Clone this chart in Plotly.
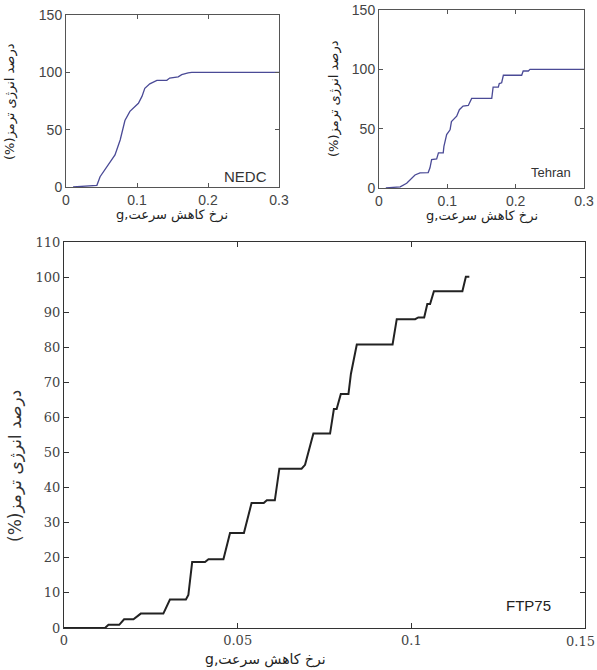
import plotly.graph_objects as go

# NEDC cycle
nedc_x = [0.010, 0.020, 0.035, 0.0435, 0.048, 0.0576, 0.069, 0.0763, 0.083, 0.090, 0.102, 0.107,
          0.111, 0.118, 0.128, 0.142, 0.146, 0.158, 0.163, 0.172, 0.177, 0.300]
nedc_y = [0.0, 0.5, 1.0, 1.5, 9, 18, 28, 41, 58, 66, 73, 79,
          86, 90, 93, 93, 95, 96, 98, 99.5, 100, 100]

# Tehran cycle
teh_x = [0.010, 0.031, 0.0405, 0.0527, 0.060, 0.072, 0.0746, 0.077, 0.0844, 0.087, 0.094, 0.095,
         0.099, 0.104, 0.106, 0.1137, 0.1176, 0.123, 0.1307, 0.1356, 0.165, 0.167, 0.1746, 0.176,
         0.1795, 0.182, 0.2088, 0.211, 0.2185, 0.221, 0.300]
teh_y = [0.0, 1.0, 4, 11, 12.7, 13, 17, 24, 24.5, 29.6, 29.6, 35,
         45, 49, 56, 60.5, 66, 69, 69.6, 75.5, 75.5, 85, 85, 88,
         88.7, 95, 95, 98.6, 98.6, 100, 100]

# FTP75 cycle
ftp_x = [0.000, 0.0118, 0.0128, 0.0159, 0.0173, 0.0200, 0.0221, 0.0286, 0.0305, 0.0351, 0.0358,
         0.0369, 0.0406, 0.0416, 0.0459, 0.0478, 0.0518, 0.0540, 0.0575, 0.0584, 0.0607, 0.0620,
         0.0684, 0.0694, 0.0718, 0.0766, 0.0777, 0.0785, 0.0797, 0.0819, 0.0826, 0.0843, 0.0946,
         0.0958, 0.1011, 0.1020, 0.1037, 0.1046, 0.1054, 0.1065, 0.1147, 0.1157, 0.1167]
ftp_y = [0.0, 0.0, 0.9, 0.9, 2.5, 2.5, 4.1, 4.1, 8.1, 8.1, 9.4,
         18.8, 18.8, 19.6, 19.6, 27.1, 27.1, 35.6, 35.6, 36.4, 36.4, 45.4,
         45.4, 46.5, 55.4, 55.4, 62.4, 62.4, 66.7, 66.7, 72.4, 80.8, 80.8,
         88.0, 88.0, 88.5, 88.5, 92.3, 92.3, 96.0, 96.0, 100.1, 100.1]

small_ticks = [0, 0.1, 0.2, 0.3]
small_ticktext = ["0", "0.1", "0.2", "0.3"]
big_ticks = [0, 0.05, 0.1, 0.15]
big_ticktext = ["0", "0.05", "0.1", ""]
edge_ticktext = "0.15"

x_title = "g,نرخ کاهش سرعت"
y_title = "(%)درصد انرژی ترمز"

fig = go.Figure()
fig.add_trace(go.Scatter(x=nedc_x, y=nedc_y, mode="lines", xaxis="x", yaxis="y",
                         line=dict(color="#4a4a96", width=1.3), showlegend=False))
fig.add_trace(go.Scatter(x=teh_x, y=teh_y, mode="lines", xaxis="x2", yaxis="y2",
                         line=dict(color="#4a4a96", width=1.3), showlegend=False))
fig.add_trace(go.Scatter(x=ftp_x, y=ftp_y, mode="lines", xaxis="x3", yaxis="y3",
                         line=dict(color="#222222", width=2), showlegend=False))

W, H = 597, 670
def px(x):
    return x / W
def py(y):
    return (H - y) / H

small_ax = dict(showline=True, linecolor="#555", linewidth=1, mirror="allticks", automargin=False,
                ticks="inside", ticklen=4, tickcolor="#555", showgrid=False, zeroline=False,
                tickfont=dict(family="Liberation Sans", size=14, color="#444"))
big_ax = dict(showline=True, linecolor="#333", linewidth=1.2, mirror="allticks", automargin=False,
              ticks="inside", ticklen=5, tickcolor="#333", showgrid=False, zeroline=False,
              tickfont=dict(family="DejaVu Serif", size=13, color="#444"))

fig.update_layout(
    template="none",
    width=W, height=H, margin=dict(l=0, r=0, t=0, b=0, pad=0),
    paper_bgcolor="white", plot_bgcolor="white",
    xaxis=dict(domain=[px(66), px(279)], range=[0, 0.3], tickvals=small_ticks,
               ticktext=small_ticktext, anchor="y", **small_ax),
    yaxis=dict(domain=[py(187), py(15)], range=[0, 150], tickvals=[0, 50, 100, 150],
               anchor="x", **small_ax),
    xaxis2=dict(domain=[px(379), px(584)], range=[0, 0.3], tickvals=small_ticks,
                ticktext=small_ticktext, anchor="y2", **small_ax),
    yaxis2=dict(domain=[py(188), py(10)], range=[0, 150], tickvals=[0, 50, 100, 150],
                anchor="x2", **small_ax),
    xaxis3=dict(domain=[px(64), px(585)], range=[0, 0.15], tickvals=big_ticks,
                ticktext=big_ticktext, anchor="y3", **big_ax),
    yaxis3=dict(domain=[py(628), py(242)], range=[0, 110], tickvals=list(range(0, 111, 10)),
                anchor="x3", **big_ax),
)

pfont = dict(family="DejaVu Sans", size=13, color="#222")
annots = [
    # x titles
    dict(text=x_title, x=px(172), y=py(215), font=pfont),
    dict(text=x_title, x=px(482), y=py(216), font=pfont),
    dict(text=x_title, x=px(265), y=py(659), font=dict(family="DejaVu Sans", size=14, color="#222")),
    # y titles
    dict(text=y_title, x=px(10), y=py(102), textangle=-90, font=pfont),
    dict(text=y_title, x=px(334), y=py(99), textangle=-90, font=pfont),
    dict(text=y_title, x=px(15), y=py(466), textangle=-90, font=dict(family="DejaVu Sans", size=17, color="#333")),
    # cycle labels
    dict(text="NEDC", x=px(245), y=py(176), font=dict(family="Liberation Sans", size=15, color="#333")),
    dict(text="Tehran", x=px(551), y=py(172), font=dict(family="Liberation Sans", size=13, color="#333")),
    dict(text="FTP75", x=px(528), y=py(605), font=dict(family="Liberation Sans", size=15, color="#222")),
    # last tick label of the large chart (at the page edge)
    dict(text=edge_ticktext, x=px(580), y=py(641), font=dict(family="DejaVu Serif", size=13, color="#444")),
]
for a in annots:
    a.update(xref="paper", yref="paper", showarrow=False, xanchor="center", yanchor="middle")
fig.update_layout(annotations=annots)

fig.write_html("out.html", config={"displayModeBar": False},
               post_script="document.body.style.margin='0';document.body.style.padding='0';")
